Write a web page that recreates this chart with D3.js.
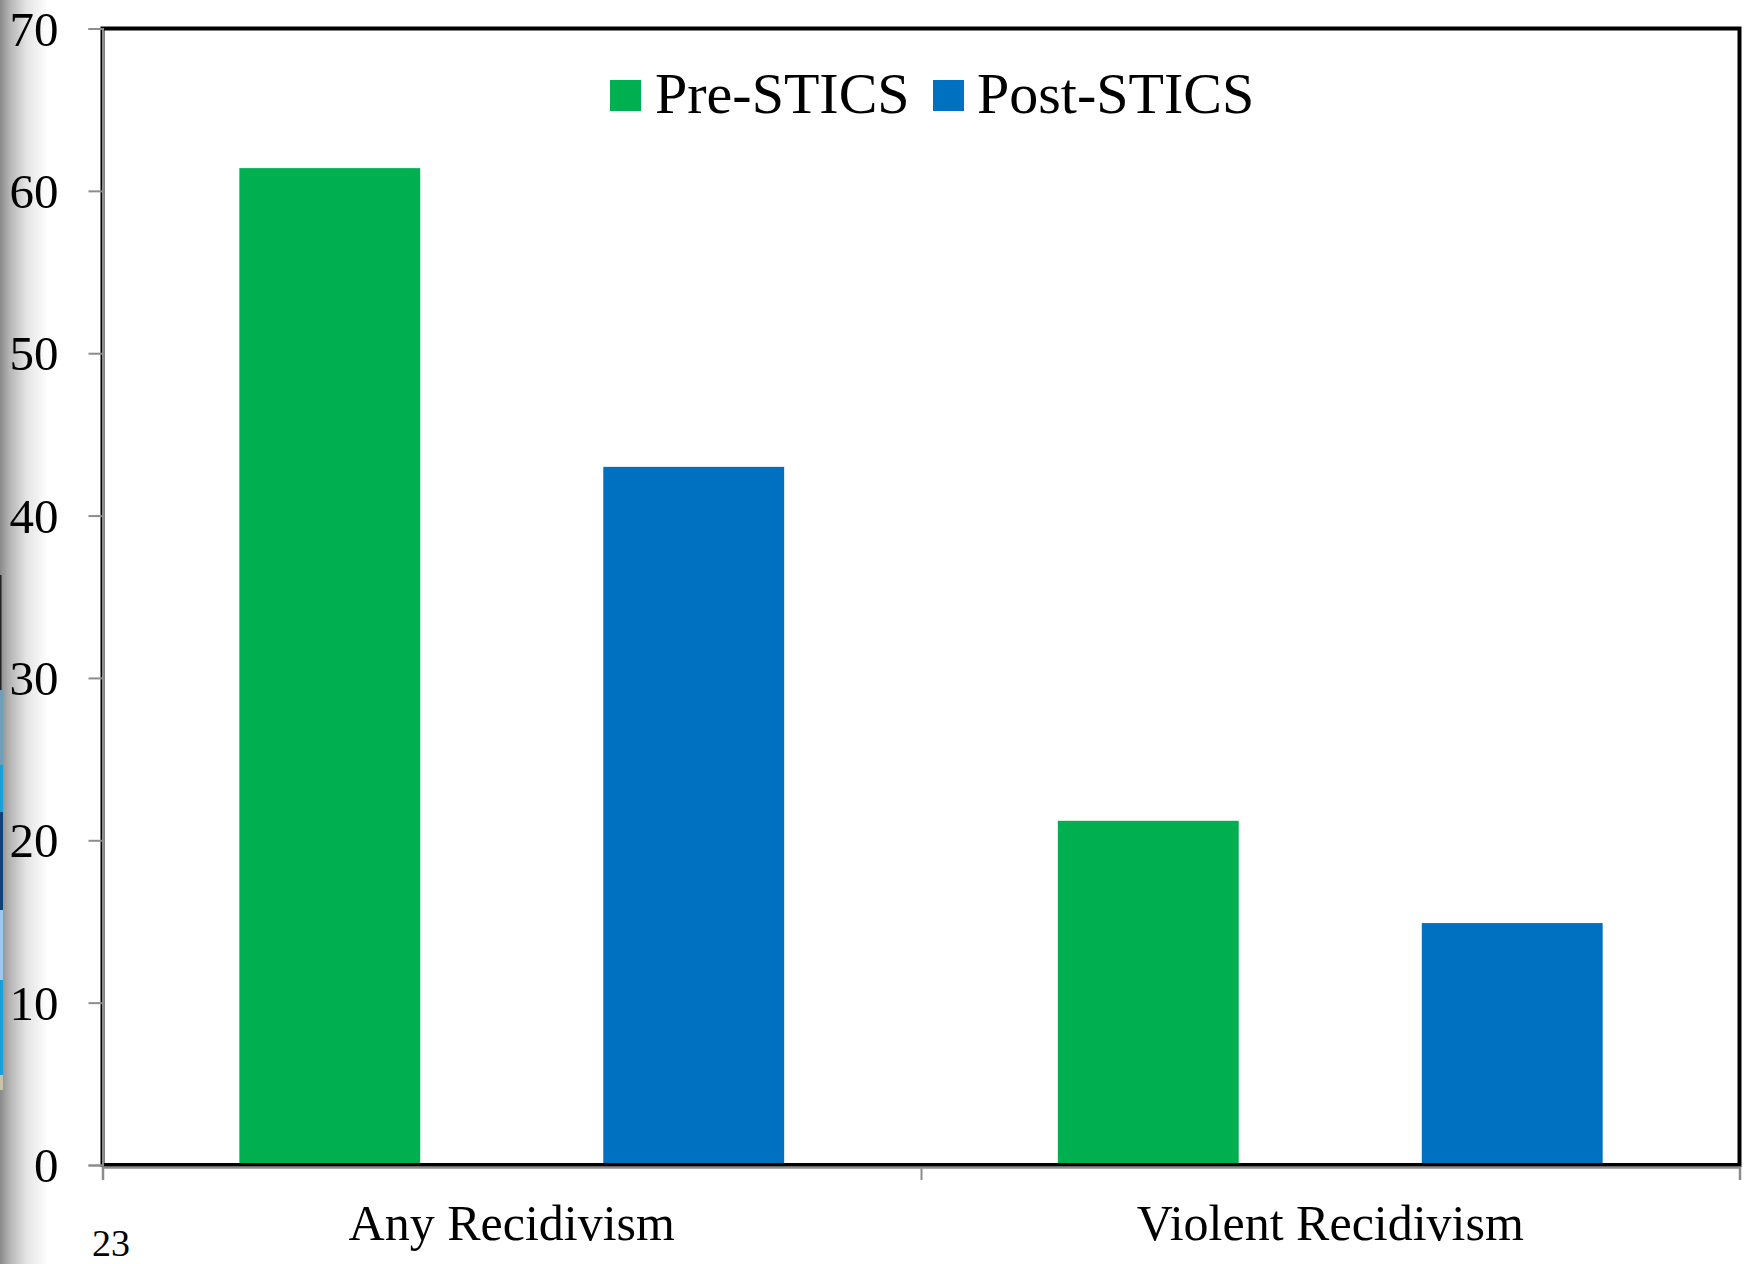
<!DOCTYPE html>
<html>
<head>
<meta charset="utf-8">
<script src="https://cdn.jsdelivr.net/npm/d3@7"></script>
<style>
  html, body { margin: 0; padding: 0; background: #fff; }
  svg { display: block; }
  text { font-family: "Liberation Serif", "Times New Roman", serif; fill: #000; }
</style>
</head>
<body>
<script>
// ---- data ----
const categories = ["Any Recidivism", "Violent Recidivism"];
const seriesNames = ["Pre-STICS", "Post-STICS"];
const preValues = [61.4, 21.2];
const postValues = [43.0, 14.9];
const yTicks = [0, 10, 20, 30, 40, 50, 60, 70];
const slideNumber = "23";

const seriesColors = ["#00B050", "#0070C0"];

const W = 1744, H = 1264;
const svg = d3.select("body").append("svg").attr("width", W).attr("height", H);

// left slide-edge gradient (decorative background)
const defs = svg.append("defs");
const grad = defs.append("linearGradient").attr("id", "edge").attr("x1", 0).attr("x2", 1).attr("y1", 0).attr("y2", 0);
grad.append("stop").attr("offset", 0).attr("stop-color", "#8a8a8a");
grad.append("stop").attr("offset", 0.2).attr("stop-color", "#b4b4b4");
grad.append("stop").attr("offset", 0.55).attr("stop-color", "#e4e4e4");
grad.append("stop").attr("offset", 1).attr("stop-color", "#ffffff");
svg.append("rect").attr("x", 0).attr("y", 0).attr("width", 48).attr("height", H).attr("fill", "url(#edge)");

// thin coloured strip at the very left edge (background artefact)
const strip = [
  [575, 690, "#222222", 1.5],
  [690, 765, "#6f9fb8", 3],
  [765, 812, "#1aa0d8", 3],
  [812, 910, "#0d3f78", 3],
  [910, 980, "#9cc8f0", 3],
  [980, 1075, "#1aa0d8", 3],
  [1075, 1090, "#c8c4a8", 3]
];
svg.append("g").selectAll("rect").data(strip).join("rect")
  .attr("x", 0).attr("y", d => d[0]).attr("width", d => d[3]).attr("height", d => d[1] - d[0]).attr("fill", d => d[2]);

// ---- scales ----
const plot = { left: 102.5, right: 1739.5, top: 28.5, bottom: 1165 };
const y = d3.scaleLinear().domain([0, 70]).range([plot.bottom, plot.top]);
const x0 = d3.scaleBand().domain(categories).range([plot.left, plot.right]).padding(0);
const x1 = d3.scaleBand().domain(seriesNames).range([0, x0.bandwidth()]).paddingInner(0.503).paddingOuter(0.376);

// bars
const rows = categories.map((c, i) => ({ cat: c, vals: [preValues[i], postValues[i]] }));
const gBars = svg.append("g");
rows.forEach(r => {
  gBars.selectAll(null).data(seriesNames.map((s, j) => ({ s, v: r.vals[j], j }))).join("rect")
    .attr("x", d => x0(r.cat) + x1(d.s))
    .attr("width", x1.bandwidth())
    .attr("y", d => y(d.v))
    .attr("height", d => y(0) - y(d.v))
    .attr("fill", d => seriesColors[d.j]);
});

// plot frame (black)
svg.append("rect")
  .attr("x", plot.left).attr("y", plot.top)
  .attr("width", plot.right - plot.left).attr("height", plot.bottom - plot.top)
  .attr("fill", "none").attr("stroke", "#000").attr("stroke-width", 4);

// y axis
const yAxis = svg.append("g").attr("transform", `translate(${plot.left},0)`)
  .call(d3.axisLeft(y).tickValues(yTicks).tickSize(14).tickPadding(30).tickFormat(d3.format("d")));
yAxis.select(".domain").attr("stroke", "#8c8c8c").attr("stroke-width", 2);
yAxis.selectAll(".tick line").attr("stroke", "#8c8c8c").attr("stroke-width", 2);
yAxis.selectAll(".tick text").attr("font-size", 49).attr("font-family", "Liberation Serif").attr("fill", "#000").attr("dy", "0.34em").attr("x", -44);

// x axis (category boundaries as ticks)
const xLine = d3.scaleLinear().domain([0, categories.length]).range([plot.left, plot.right]);
const xAxis = svg.append("g").attr("transform", `translate(0,${plot.bottom + 2})`)
  .call(d3.axisBottom(xLine).tickValues(d3.range(categories.length + 1)).tickSize(13).tickFormat(""));
xAxis.select(".domain").attr("stroke", "#8c8c8c").attr("stroke-width", 2.5);
xAxis.selectAll(".tick line").attr("stroke", "#8c8c8c").attr("stroke-width", 2);

// category labels
svg.append("g").selectAll("text").data(categories).join("text")
  .attr("x", d => x0(d) + x0.bandwidth() / 2)
  .attr("y", 1240)
  .attr("text-anchor", "middle")
  .attr("font-size", 50)
  .text(d => d);

// legend
const legendItems = [
  { name: seriesNames[0], color: seriesColors[0], sx: 610, tx: 655 },
  { name: seriesNames[1], color: seriesColors[1], sx: 933, tx: 977 }
];
const lg = svg.append("g");
lg.selectAll("rect").data(legendItems).join("rect")
  .attr("x", d => d.sx).attr("y", 80).attr("width", 31).attr("height", 31).attr("fill", d => d.color);
lg.selectAll("text").data(legendItems).join("text")
  .attr("x", d => d.tx).attr("y", 113).attr("font-size", 58).text(d => d.name);

// slide number
svg.append("text").attr("x", 92).attr("y", 1256).attr("font-size", 38).text(slideNumber);
</script>
</body>
</html>
